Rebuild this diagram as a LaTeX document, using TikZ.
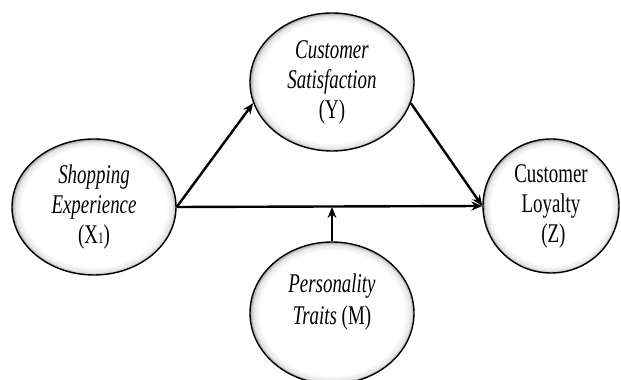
\documentclass[tikz,border=0pt]{standalone}
\usepackage{fontspec}
\setmainfont{Liberation Serif}[FakeStretch=0.7]
\usetikzlibrary{shapes.geometric,arrows.meta}
\pgfdeclareradialshading{rim}{\pgfpoint{0bp}{0bp}}{color(0bp)=(white); color(22bp)=(white); color(24bp)=(black!10); color(25bp)=(black!35); color(50bp)=(black!35)}
\tikzset{
  var/.style={ellipse, draw=black, line width=1.4pt, shading=rim, inner sep=0pt, align=center,
    font=\fontsize{27}{30}\selectfont},
  conn/.style={line width=2.4pt, -{Stealth[length=11pt,width=9pt]}},
  lbl/.style={inner sep=0pt, align=center, font=\fontsize{27}{32}\selectfont}
}
\begin{document}
\begin{tikzpicture}[x=1pt,y=1pt]
\useasboundingbox (0,0) rectangle (621,380);
\node[var, minimum width=164pt, minimum height=136pt] (X) at (94,173) {\textit{Shopping}\\\textit{Experience}\\(X{\fontsize{16}{16}\selectfont 1})};
\node[var, minimum width=164pt, minimum height=138pt] (Y) at (332,298) {\textit{Customer}\\\textit{Satisfaction}\\(Y)};
\node[var, minimum width=136pt, minimum height=134pt] (Z) at (551,174) {Customer\\Loyalty\\\ (Z)};
\node[var, minimum width=164pt, minimum height=142pt] (M) at (332,67) {};
\node[lbl] (Mt) at (332,78) {\textit{Personality}\\\textit{Traits} (M)};
\coordinate (J) at (M.north |- X.east);
\draw[conn] (X.east) -- (Y.195);
\draw[conn] (Y.-15) -- (Z.west);
\draw[conn] (X.east) -- (Z.west);
\draw[conn] (M.north) -- (J);
\end{tikzpicture}
\end{document}
